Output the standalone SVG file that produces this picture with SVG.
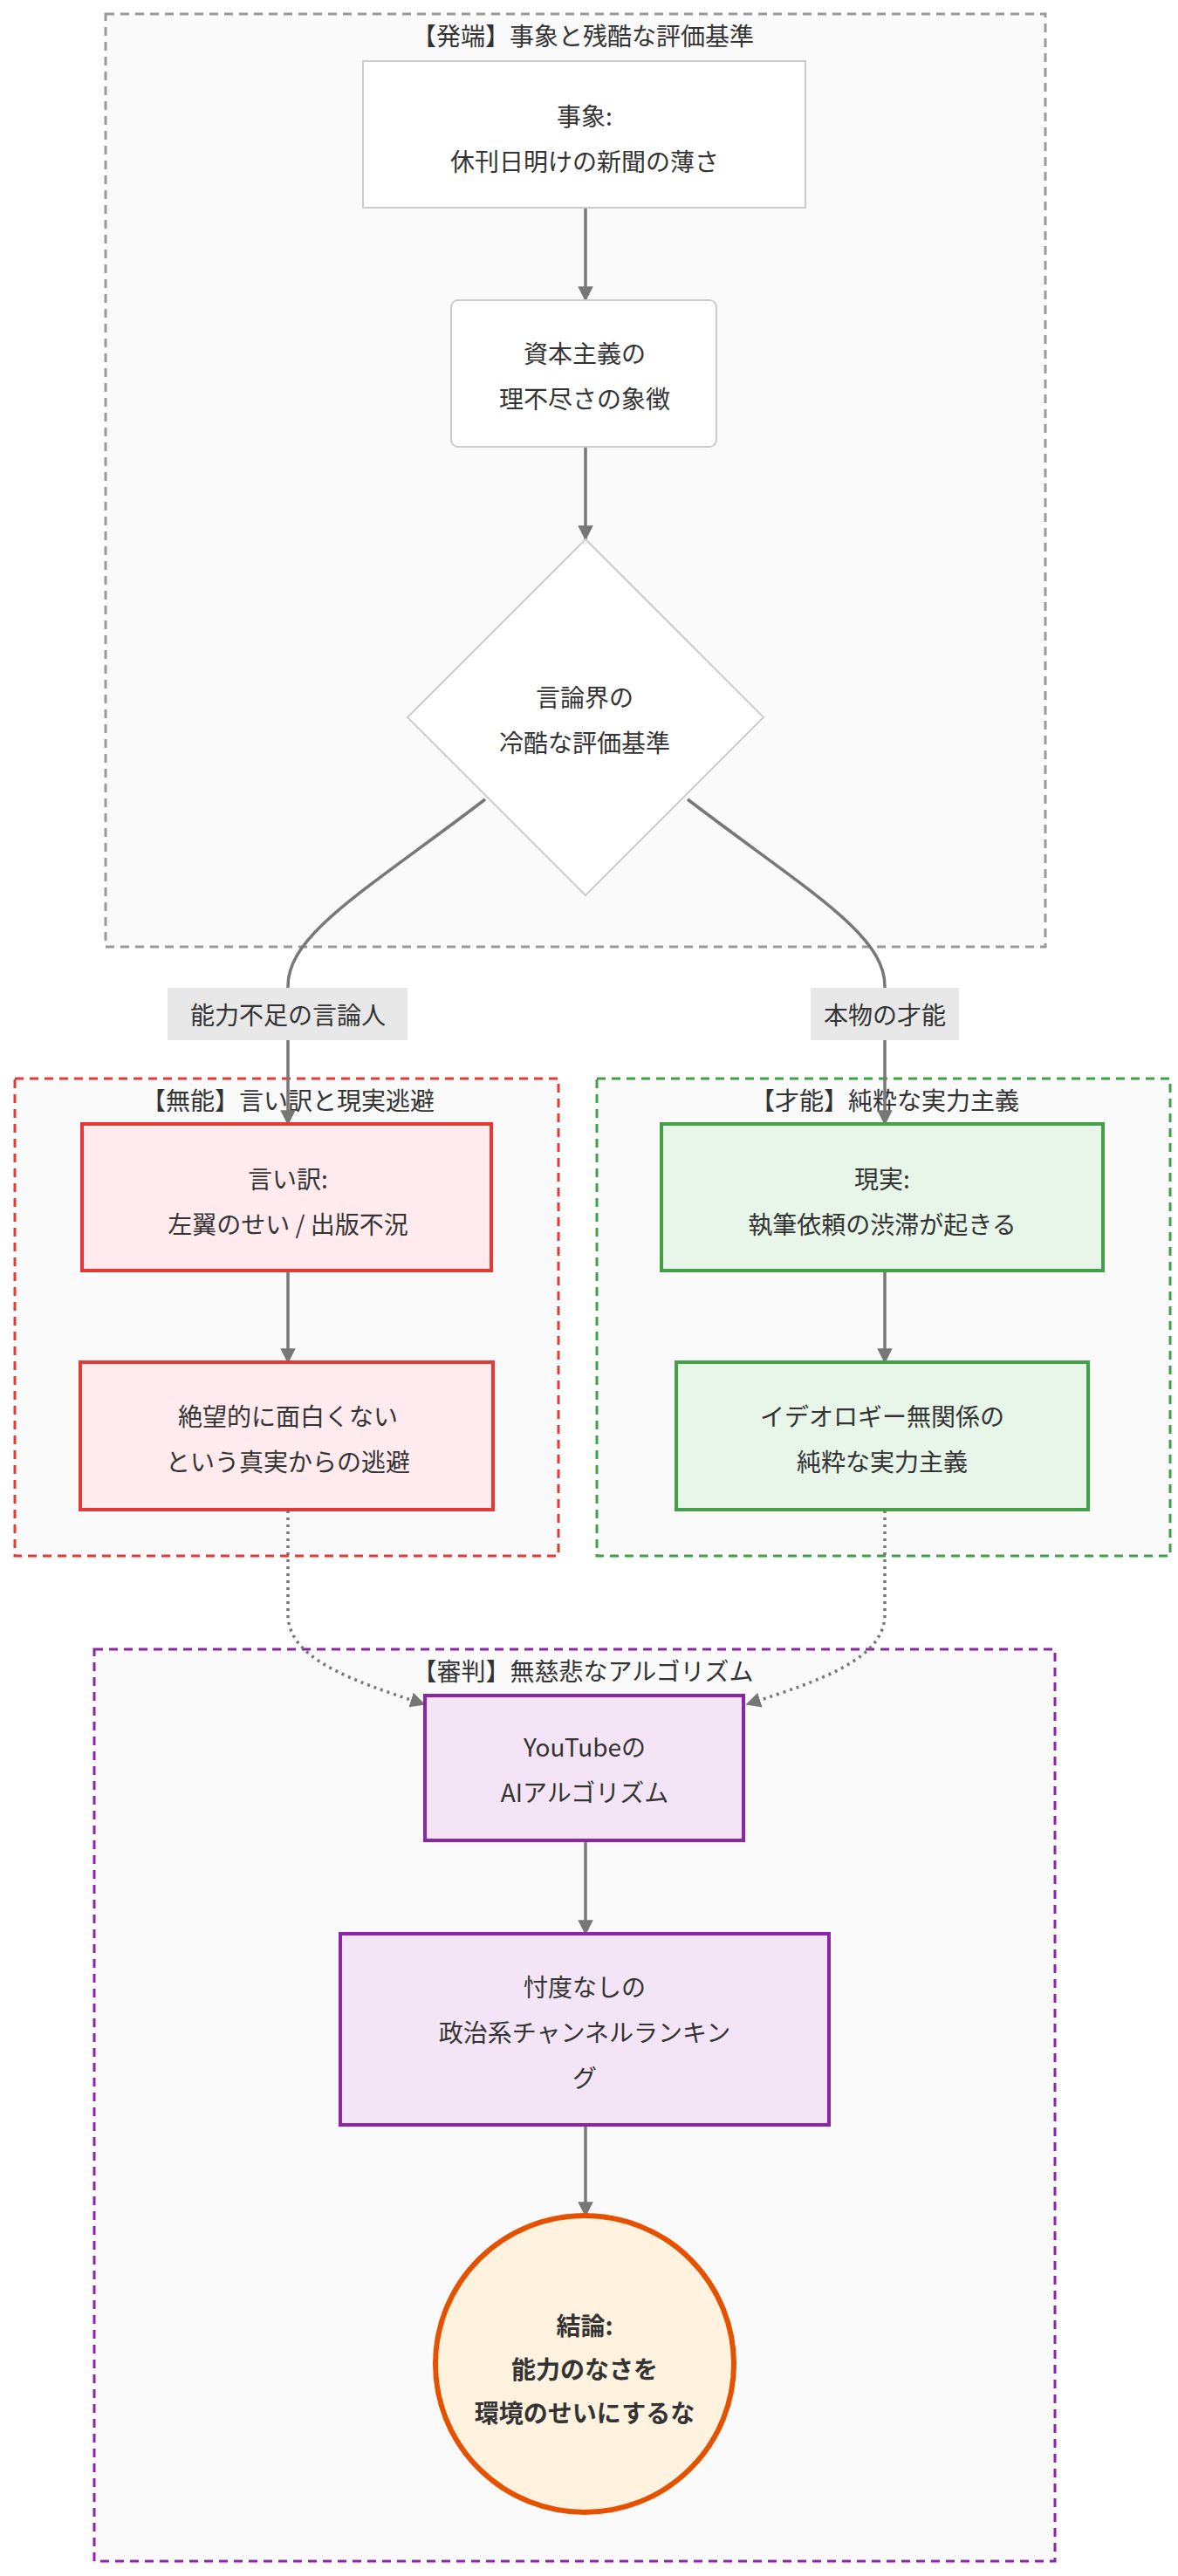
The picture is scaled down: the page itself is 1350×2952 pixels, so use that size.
<svg xmlns="http://www.w3.org/2000/svg" width="1350" height="2952" viewBox="0 0 1350 2952">
<style>
text{font-family:"Noto Sans CJK JP","Noto Sans",sans-serif;font-size:28px;fill:#333;text-anchor:middle;dominant-baseline:central}
.cl{fill:#fafafa;stroke-width:3;stroke-dasharray:10 7}
.e{fill:none;stroke:#777;stroke-width:3.5}
.d{stroke-dasharray:3 5}
</style>
<defs><marker id="a" viewBox="0 0 10 10" refX="9" refY="5" markerWidth="5" markerHeight="5" orient="auto"><path d="M0,0L10,5L0,10z" fill="#777"/></marker></defs>
<rect width="1350" height="2952" fill="#fff"/>
<g id="c1"><rect class="cl" x="121" y="16" width="1077" height="1069" stroke="#999"/><text x="668" y="40">【発端】事象と残酷な評価基準</text></g>
<g id="c2"><rect class="cl" x="17" y="1236" width="623" height="547" stroke="#e53935"/><text x="330" y="1260">【無能】言い訳と現実逃避</text></g>
<g id="c3"><rect class="cl" x="684" y="1236" width="657" height="547" stroke="#43a047"/><text x="1014" y="1260">【才能】純粋な実力主義</text></g>
<g id="c4"><rect class="cl" x="108" y="1890" width="1101" height="1045" stroke="#8e24aa"/><text x="668" y="1914">【審判】無慈悲なアルゴリズム</text></g>
<g id="edges">
<path class="e" d="M671,238V344" marker-end="url(#a)"/>
<path class="e" d="M671,512V618" marker-end="url(#a)"/>
<path class="e" d="M556,916C420,1020 330,1070 330,1130V1288" marker-end="url(#a)"/>
<path class="e" d="M788,916C924,1020 1014,1070 1014,1130V1288" marker-end="url(#a)"/>
<path class="e" d="M330,1456V1561" marker-end="url(#a)"/>
<path class="e" d="M1014,1456V1561" marker-end="url(#a)"/>
<path class="e d" d="M330,1731V1850C330,1900 400,1925 486,1953" marker-end="url(#a)"/>
<path class="e d" d="M1014,1731V1850C1014,1900 944,1925 856,1953" marker-end="url(#a)"/>
<path class="e" d="M671,2109V2216" marker-end="url(#a)"/>
<path class="e" d="M671,2435V2539" marker-end="url(#a)"/>
<rect x="192" y="1132" width="275" height="60" fill="#e8e8e8"/><text x="330" y="1162">能力不足の言論人</text>
<rect x="929" y="1132" width="170" height="60" fill="#e8e8e8"/><text x="1014" y="1162">本物の才能</text>
</g>
<g id="n1"><rect x="416" y="70" width="507" height="168" fill="#fff" stroke="#ccc" stroke-width="2"/><text x="670" y="132">事象:</text><text x="670" y="184">休刊日明けの新聞の薄さ</text></g>
<g id="n2"><rect x="517" y="344" width="304" height="168" rx="8" fill="#fff" stroke="#ccc" stroke-width="2"/><text x="670" y="404">資本主義の</text><text x="670" y="456">理不尽さの象徴</text></g>
<g id="n3"><path d="M671,618L875,822L671,1026L467,822z" fill="#fff" stroke="#ccc" stroke-width="2"/><text x="670" y="798">言論界の</text><text x="670" y="850">冷酷な評価基準</text></g>
<g id="n4"><rect x="94" y="1288" width="469" height="168" fill="#ffebee" stroke="#e53935" stroke-width="4"/><text x="330" y="1350">言い訳:</text><text x="330" y="1402">左翼のせい / 出版不況</text></g>
<g id="n5"><rect x="92" y="1561" width="473" height="169" fill="#ffebee" stroke="#e53935" stroke-width="4"/><text x="330" y="1622">絶望的に面白くない</text><text x="330" y="1674">という真実からの逃避</text></g>
<g id="n6"><rect x="758" y="1288" width="506" height="168" fill="#e8f5e9" stroke="#43a047" stroke-width="4"/><text x="1011" y="1350">現実:</text><text x="1011" y="1402">執筆依頼の渋滞が起きる</text></g>
<g id="n7"><rect x="775" y="1561" width="472" height="169" fill="#e8f5e9" stroke="#43a047" stroke-width="4"/><text x="1011" y="1622">イデオロギー無関係の</text><text x="1011" y="1674">純粋な実力主義</text></g>
<g id="n8"><rect x="487" y="1943" width="365" height="166" fill="#f3e5f5" stroke="#8e24aa" stroke-width="4"/><text x="670" y="2001">YouTubeの</text><text x="670" y="2053">AIアルゴリズム</text></g>
<g id="n9"><rect x="390" y="2216" width="560" height="219" fill="#f3e5f5" stroke="#8e24aa" stroke-width="4"/><text x="670" y="2276">忖度なしの</text><text x="670" y="2328">政治系チャンネルランキン</text><text x="670" y="2380">グ</text></g>
<g id="n10"><ellipse cx="670" cy="2709" rx="171" ry="170" fill="#fff3e0" stroke="#e65100" stroke-width="6"/><text x="670" y="2664" font-weight="bold">結論:</text><text x="670" y="2714" font-weight="bold">能力のなさを</text><text x="670" y="2764" font-weight="bold">環境のせいにするな</text></g>
</svg>
